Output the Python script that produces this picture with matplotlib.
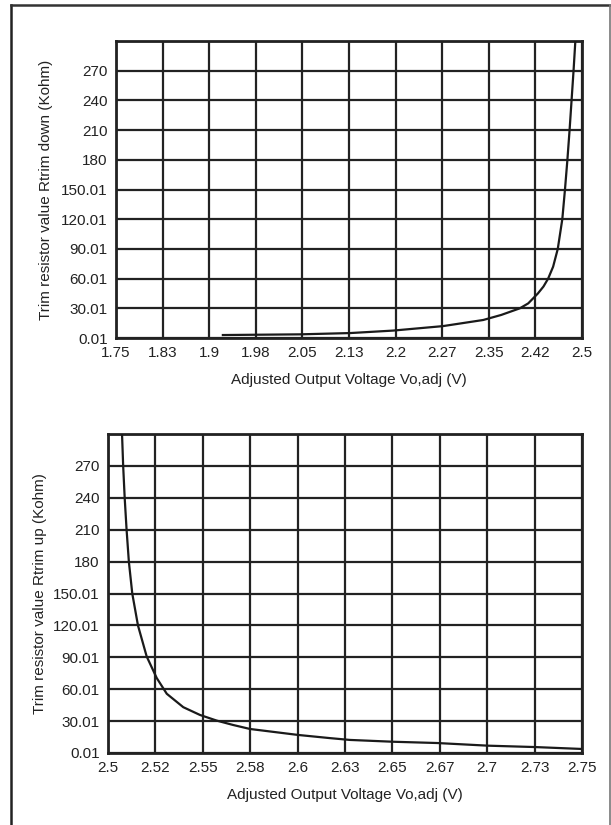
import matplotlib
matplotlib.use("Agg")
import matplotlib.pyplot as plt
from matplotlib.lines import Line2D

plt.rcParams['font.family'] = ['Liberation Sans', 'DejaVu Sans']

# trim down curve
down_v = [1.922, 2.046, 2.127, 2.196, 2.276, 2.341, 2.37, 2.4, 2.4135, 2.429, 2.438, 2.4455,
          2.4535, 2.461, 2.4683, 2.4726, 2.4765, 2.48, 2.4832, 2.4864, 2.4893]
down_r = [3, 3.7, 5, 7.5, 12, 18.2, 23.3, 30, 35, 45, 52, 60,
          72, 90, 120, 150, 180, 210, 240, 270, 300]
down_ticks = [1.75, 1.825, 1.9, 1.975, 2.05, 2.125, 2.2, 2.275, 2.35, 2.425, 2.5]
down_labels = ["1.75", "1.83", "1.9", "1.98", "2.05", "2.13", "2.2", "2.27", "2.35", "2.42", "2.5"]

# trim up curve
up_v = [2.5074, 2.508, 2.5088, 2.5098, 2.511, 2.5128, 2.5158, 2.5204, 2.5257,
        2.531, 2.5397, 2.5485, 2.5573, 2.5659, 2.5749, 2.6002, 2.6171, 2.6276, 2.6503, 2.6735,
        2.7004, 2.7252, 2.75]
up_r = [300, 270, 240, 210, 180, 150, 120, 90.8, 70.5,
        55.7, 43.1, 35.8, 30.5, 26.4, 22.6, 17, 14, 12.3, 10.6, 9.4,
        6.9, 5.6, 3.8]
up_ticks = [2.5, 2.525, 2.55, 2.575, 2.6, 2.625, 2.65, 2.675, 2.7, 2.725, 2.75]
up_labels = ["2.5", "2.52", "2.55", "2.58", "2.6", "2.63", "2.65", "2.67", "2.7", "2.73", "2.75"]

y_ticks = [0.01, 30.01, 60.01, 90.01, 120.01, 150.01, 180.01, 210.01, 240.01, 270.01, 300.01]
y_labels = ["0.01", "30.01", "60.01", "90.01", "120.01", "150.01", "180", "210", "240", "270", ""]

W, H = 611, 825
fig = plt.figure(figsize=(W / 100, H / 100), dpi=100)

# outer frame, open at the bottom
fig.add_artist(Line2D([11 / W, 11 / W], [0, 1 - 5 / H], color="#222222", lw=1.8))
fig.add_artist(Line2D([11 / W, 610 / W], [1 - 5 / H, 1 - 5 / H], color="#333333", lw=1.8))
fig.add_artist(Line2D([610 / W, 610 / W], [0, 1 - 5 / H], color="#777777", lw=1.2))


def make(rect, vs, rs, xt, xl, ylab, ylx):
    ax = fig.add_axes(rect)
    ax.plot(vs, rs, color="#1a1a1a", lw=1.6, zorder=3, solid_joinstyle="round")
    ax.set_xlim(xt[0], xt[-1])
    ax.set_ylim(0.01, 300.01)
    ax.set_xticks(xt)
    ax.set_xticklabels(xl)
    ax.set_yticks(y_ticks)
    ax.set_yticklabels(y_labels)
    ax.grid(True, color="#222222", lw=1.6)
    ax.tick_params(length=0, labelsize=11, pad=6, colors="#222222")
    for s in ax.spines.values():
        s.set_linewidth(2.0)
        s.set_color("#222222")
    ax.set_xlabel("Adjusted Output Voltage Vo,adj (V)", fontsize=11, color="#222222", labelpad=9)
    ax.set_ylabel(ylab, fontsize=11, color="#222222")
    ax.yaxis.set_label_coords(ylx, 0.5)
    return ax


make([116 / W, 1 - 338 / H, 466 / W, 297 / H], down_v, down_r, down_ticks, down_labels,
     "Trim resistor value Rtrim down (Kohm)", -0.135)
make([108 / W, 1 - 753 / H, 474 / W, 319 / H], up_v, up_r, up_ticks, up_labels,
     "Trim resistor value Rtrim up (Kohm)", -0.128)

fig.savefig("out.png", dpi=100)
